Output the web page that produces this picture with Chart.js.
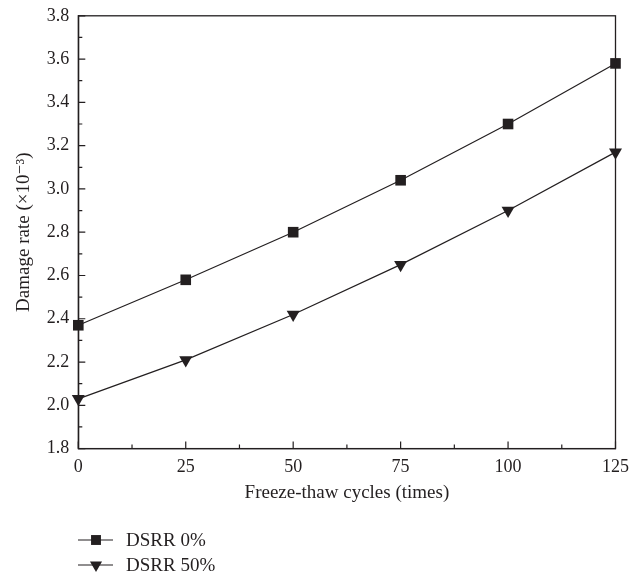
<!DOCTYPE html>
<html><head><meta charset="utf-8">
<script src="https://cdn.jsdelivr.net/npm/chart.js@4/dist/chart.umd.min.js"></script>
<style>html,body{margin:0;padding:0;background:#fff;overflow:hidden}#wrap{width:629px;height:575px;overflow:hidden;position:relative}#c{position:absolute;left:0;top:-4px}</style>
</head><body><div id="wrap"><canvas id="c" width="629" height="579"></canvas></div>
<script>
const cycles = [0, 25, 50, 75, 100, 125];
const dsrr0 = [2.37, 2.58, 2.80, 3.04, 3.30, 3.58];
const dsrr50 = [2.03, 2.21, 2.42, 2.65, 2.90, 3.17];
const seriesNames = ['DSRR 0%', 'DSRR 50%'];
const xTitle = 'Freeze-thaw cycles (times)';
const yTitle = 'Damage rate (\u00d710\u207b\u00b3)';
const INK = '#231f20';
const FONT = '"Liberation Serif", "DejaVu Serif", serif';

const framePlugin = {
  id: 'frame',
  afterDraw(chart) {
    const {ctx, chartArea: a, scales: {x, y}} = chart;
    ctx.save();
    ctx.strokeStyle = INK;
    ctx.lineWidth = 1.3;
    ctx.strokeRect(a.left, a.top, a.right - a.left, a.bottom - a.top);
    ctx.lineWidth = 1.2;
    ctx.beginPath();
    for (let v = 0; v <= 125; v += 12.5) {
      const px = x.getPixelForValue(v);
      const len = (v % 25 === 0) ? 7 : 4;
      ctx.moveTo(px, a.bottom); ctx.lineTo(px, a.bottom - len);
    }
    for (let i = 0; i <= 20; i++) {
      const v = 1.8 + i * 0.1;
      const py = y.getPixelForValue(v);
      const len = (i % 2 === 0) ? 7 : 4;
      ctx.moveTo(a.left, py); ctx.lineTo(a.left + len, py);
    }
    ctx.stroke();
    // legend
    const rows = [{y: 544, style: 'rect', r: 7, rot: 0}, {y: 569, style: 'triangle', r: 7, rot: 180}];
    rows.forEach((row, i) => {
      ctx.strokeStyle = INK; ctx.lineWidth = 1.2;
      ctx.beginPath(); ctx.moveTo(78, row.y); ctx.lineTo(113, row.y); ctx.stroke();
      ctx.fillStyle = INK;
      Chart.helpers.drawPoint(ctx, {pointStyle: row.style, radius: row.r, rotation: row.rot, borderWidth: 0}, 96, row.y);
      ctx.fillStyle = INK;
      ctx.font = '19px ' + FONT;
      ctx.textBaseline = 'middle';
      ctx.textAlign = 'left';
      ctx.fillText(seriesNames[i], 126, row.y + 1);
    });
    ctx.restore();
  }
};

new Chart(document.getElementById('c'), {
  type: 'line',
  data: {
    datasets: [
      {label: seriesNames[0], data: cycles.map((c, i) => ({x: c, y: dsrr0[i]})), borderColor: INK, backgroundColor: INK, borderWidth: 1.2, pointStyle: 'rect', pointRadius: 7.5, pointBorderWidth: 0, tension: 0, clip: false},
      {label: seriesNames[1], data: cycles.map((c, i) => ({x: c, y: dsrr50[i]})), borderColor: INK, backgroundColor: INK, borderWidth: 1.2, pointStyle: 'triangle', pointRotation: 180, pointRadius: 7.5, pointBorderWidth: 0, tension: 0, clip: false}
    ]
  },
  options: {
    responsive: false,
    animation: false,
    layout: {padding: {left: 9, right: 0, top: 11, bottom: 67}},
    plugins: {legend: {display: false}, tooltip: {enabled: false}},
    scales: {
      x: {
        type: 'linear', min: 0, max: 125,
        ticks: {stepSize: 25, color: INK, font: {family: FONT, size: 18}, padding: 0, maxRotation: 0},
        grid: {display: false},
        border: {display: true, color: INK, width: 1.3},
        title: {display: true, text: xTitle, color: INK, font: {family: FONT, size: 19}, padding: {top: 3}}
      },
      y: {
        min: 1.8, max: 3.8,
        ticks: {stepSize: 0.2, color: INK, font: {family: FONT, size: 18}, padding: 9, callback: v => v.toFixed(1)},
        grid: {display: false, drawTicks: false},
        border: {display: true, color: INK, width: 1.3},
        title: {display: true, text: yTitle, color: INK, font: {family: FONT, size: 19}, padding: {bottom: 2}}
      }
    }
  },
  plugins: [framePlugin]
});
</script></body></html>
